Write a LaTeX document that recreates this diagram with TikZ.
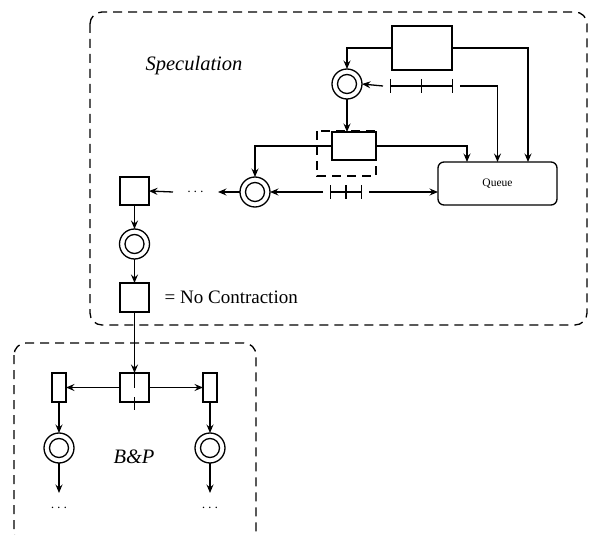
\documentclass[tikz,border=0pt]{standalone}
\usepackage{fontspec}
\setmainfont{Liberation Serif}
\usetikzlibrary{arrows.meta}
\begin{document}
\begin{tikzpicture}[x=1pt,y=-1pt,line width=1.3pt,
  arr/.style={-{Stealth[length=8.5pt,width=7pt,inset=3pt]}},
  sbox/.style={draw,line width=1.3pt,inner sep=0pt,outer sep=0pt},
  dcirc/.style={draw,circle,line width=1.3pt,inner sep=0pt,outer sep=0pt,minimum size=30pt,
    path picture={\draw[line width=1.3pt] (path picture bounding box.center) circle (9.5pt);}},
  gbox/.style={draw,dash pattern=on 9pt off 6pt,line width=1.3pt,rounded corners=12pt},
  tline/.style={inner sep=0pt,outer sep=0pt,minimum height=14pt},
  dotsn/.style={inner sep=0pt,outer sep=0pt,font=\fontsize{15}{18}\selectfont},
  lab/.style={font=\fontsize{20.5}{24}\selectfont\itshape,inner sep=0pt}
]
\clip (0,0) rectangle (590,535);
\useasboundingbox (0,0) rectangle (590,535);

% group boxes
\draw[gbox] (90,12) rectangle (587,325);
\draw[gbox] (14,343) rectangle (256,545);
\node[lab] (spec) at (194,66) {Speculation};
\node[lab] (bp) at (134,457) {B\&P};

% speculation nodes
\node[sbox,minimum width=60pt,minimum height=44pt] (top) at (422,48) {};
\node[dcirc] (c1) at (347,84) {};
\node[sbox,minimum width=44pt,minimum height=28pt] (mid) at (354,146) {};
\draw[dash pattern=on 9pt off 6pt] (317,131) rectangle (376,176);
\node[draw,rounded corners=6pt,line width=1.3pt,minimum width=119pt,minimum height=43pt,
  inner sep=0pt,outer sep=0pt,font=\fontsize{11.5}{13}\selectfont] (queue) at (497.5,183.5) {Queue};
\node[tline,minimum width=77pt] (t1) at (421.5,86) {};
\draw (t1.center) ++(-31,0) -- ++(62,0)
      (t1.center) ++(-31,-7) -- ++(0,14)
      (t1.center) ++(0,-7) -- ++(0,14)
      (t1.center) ++(31,-7) -- ++(0,14);
\node[tline,minimum width=46pt] (t2) at (346,192) {};
\draw (t2.center) ++(-15.5,0) -- ++(31,0)
      (t2.center) ++(-15.5,-7) -- ++(0,14)
      (t2.center) ++(0,-7) -- ++(0,14)
      (t2.center) ++(15.5,-7) -- ++(0,14);
\node[dcirc] (c2) at (255,192) {};
\node[dotsn,minimum width=45pt] (d1) at (195.5,192) {$\cdots$};
\node[sbox,minimum width=29pt,minimum height=28pt] (sq1) at (134.5,191) {};
\node[dcirc] (c3) at (134.5,244) {};
\node[sbox,minimum width=29pt,minimum height=29pt] (sq2) at (134.5,297.5) {};
\node[anchor=west,inner sep=0pt,font=\fontsize{19}{22}\selectfont] (nc) at (164,297.5) {= No Contraction};

% B&P nodes
\node[sbox,minimum width=29pt,minimum height=29pt] (bpc) at (134.5,387.5) {};
\node[sbox,minimum width=14pt,minimum height=29pt] (bl) at (59,387.5) {};
\node[sbox,minimum width=14pt,minimum height=29pt] (br) at (210,387.5) {};
\node[dcirc] (c4) at (59,448) {};
\node[dcirc] (c5) at (210,448) {};
\node[dotsn,minimum height=30pt] (d2) at (59,508) {$\cdots$};
\node[dotsn,minimum height=30pt] (d3) at (210,508) {$\cdots$};

% connectors speculation
\draw[arr] (top.west) -| (c1.north);
\draw[arr] (top.east) -| (queue.north -| 528,0);
\draw[arr] (t1.west) -- (c1.east);
\draw[arr] (t1.east) -| (queue.north);
\draw[arr] (c1.south) -- (c1.south |- mid.north);
\draw[arr] (mid.east) -| (queue.north -| 467,0);
\draw[arr] (mid.west) -| (c2.north);
\draw[arr] (t2.east) -- (queue.west |- t2.east);
\draw[arr] (t2.west) -- (c2.east);
\draw[arr] (c2.west) -- (d1.east);
\draw[arr] (d1.west) -- (sq1.east);
\draw[arr] (sq1.south) -- (c3.north);
\draw[arr] (c3.south) -- (sq2.north);

% connectors B&P
\draw[arr] (sq2.south) -- (bpc.north);
\draw (bpc.north) -- (bpc.center);
\draw (bpc.center) ++(0,9.5) -- ++(0,13);
\draw[arr] (bpc.west) -- (bl.east);
\draw[arr] (bpc.east) -- (br.west);
\draw[arr] (bl.south) -- (c4.north);
\draw[arr] (br.south) -- (c5.north);
\draw[arr] (c4.south) -- (d2.north);
\draw[arr] (c5.south) -- (d3.north);
\end{tikzpicture}
\end{document}
